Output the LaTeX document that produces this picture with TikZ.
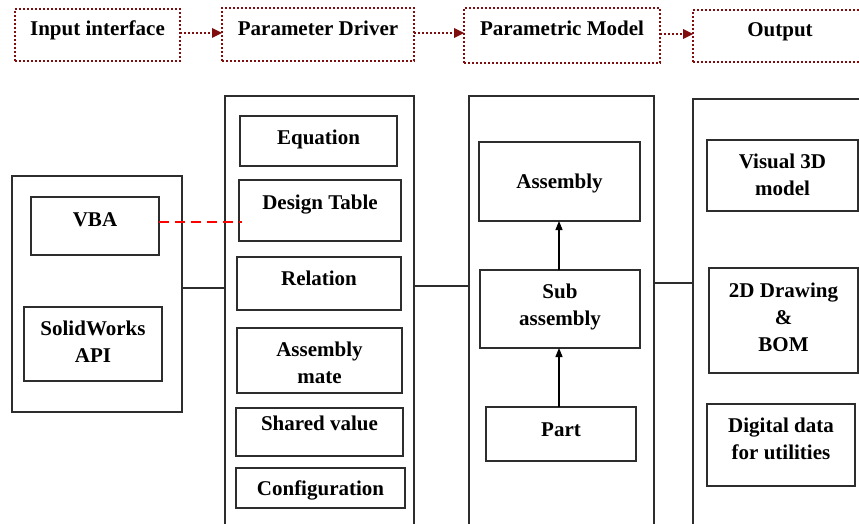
\documentclass[tikz,border=0pt]{standalone}
\usepackage{fontspec}
\setmainfont{Liberation Serif}
\usetikzlibrary{arrows.meta}
\definecolor{hdred}{RGB}{128,14,14}
\definecolor{ln}{RGB}{45,45,45}
\newcommand\mybox[6][]{\node[boxst,#1,minimum width={#4-#2},minimum height={#5-#3}] (#6) at ({(#2+#4)/2},{(#3+#5)/2}) {};}
\newcommand\twol[2]{\begin{tabular}[t]{@{}c@{}}#1\\#2\end{tabular}}
\newcommand\threel[3]{\begin{tabular}[t]{@{}c@{}}#1\\#2\\#3\end{tabular}}
\tikzset{
  boxst/.style={draw=ln,line width=1.2pt,rectangle,inner sep=0pt,outer sep=0pt},
  hdr/.style={draw=hdred,line width=2.3pt,dash pattern=on 2pt off 2pt},
  txt/.style={anchor=base,inner sep=0pt,font=\fontsize{21}{27}\selectfont\bfseries},
  hdarr/.style={draw=hdred,line width=2.3pt,dash pattern=on 2pt off 2pt,-{Triangle[length=10pt,width=10pt,fill=hdred,line width=0pt]}},
  arr/.style={draw=black,line width=1.2pt,-{Triangle[length=9pt,width=7pt]}},
  conn/.style={draw=ln,line width=1.2pt},
  reddash/.style={draw=red,line width=1.8pt,dash pattern=on 10pt off 6pt}
}
\begin{document}
\begin{tikzpicture}[x=1pt,y=-1pt]
\useasboundingbox (0,0) rectangle (859,524);
% header
\mybox[hdr]{15}{9}{180}{61}{hIn}
\mybox[hdr]{222}{8}{414}{61}{hPD}
\mybox[hdr]{464}{8}{660}{63}{hPM}
\mybox[hdr]{693}{10}{880}{62}{hOut}
\node[txt] (hInT) at (hIn |- 0,36) {Input interface};
\node[txt] (hPDT) at (hPD |- 0,36) {Parameter Driver};
\node[txt] (hPMT) at (hPM |- 0,36) {Parametric Model};
\node[txt] (hOutT) at (780,37) {Output};
\draw[hdarr] (hIn.east |- 0,33) -- (hPD.west |- 0,33);
\draw[hdarr] (hPD.east |- 0,33) -- (hPM.west |- 0,33);
\draw[hdarr] (hPM.east |- 0,34) -- (hOut.west |- 0,34);
% columns
\mybox{12}{176}{182}{412}{left}
\mybox{225}{96}{414}{540}{pd}
\mybox{469}{96}{654}{540}{pm}
\mybox{693}{99}{880}{540}{out}
% left inner
\mybox{31}{197}{159}{255}{vba}
\mybox{24}{307}{162}{381}{sw}
\node[txt] (vbaT) at (vba |- 0,226) {VBA};
\node[txt] (swT) at (sw |- 0,335) {\twol{SolidWorks}{API}};
% parameter driver inner
\mybox{240}{116}{397}{166}{eq}
\mybox{239}{180}{401}{241}{dt}
\mybox{237}{257}{401}{310}{rel}
\mybox{237}{328}{402}{393}{am}
\mybox{236}{408}{403}{456}{sv}
\mybox{236}{468}{405}{508}{cfg}
\node[txt] (eqT) at (eq |- 0,145) {Equation};
\node[txt] (dtT) at (dt |- 0,209) {Design Table};
\node[txt] (relT) at (rel |- 0,285) {Relation};
\node[txt] (amT) at (am |- 0,356) {\twol{Assembly}{mate}};
\node[txt] (svT) at (sv |- 0,430) {Shared value};
\node[txt] (cfgT) at (cfg |- 0,495) {Configuration};
% parametric model inner
\mybox{479}{142}{640}{221}{asm}
\mybox{480}{270}{640}{348}{sub}
\mybox{486}{407}{636}{461}{part}
\node[txt] (asmT) at (asm |- 0,188) {Assembly};
\node[txt] (subT) at (sub |- 0,298) {\twol{Sub}{assembly}};
\node[txt] (partT) at (part |- 0,436) {Part};
\draw[arr] (part.north -| 559,0) -- (sub.south -| 559,0);
\draw[arr] (sub.north -| 559,0) -- (asm.south -| 559,0);
% output inner
\mybox{707}{140}{858}{211}{v3d}
\mybox{709}{268}{858}{373}{d2d}
\mybox{707}{404}{855}{486}{dig}
\node[txt] (v3dT) at (v3d |- 0,168) {\twol{Visual 3D}{model}};
\node[txt] (d2dT) at (d2d |- 0,297) {\threel{2D Drawing}{\&}{BOM}};
\node[txt] (digT) at (dig |- 0,432) {\twol{Digital data}{for utilities}};
% connectors
\draw[conn] (left.east |- 0,288) -- (pd.west |- 0,288);
\draw[conn] (pd.east |- 0,286) -- (pm.west |- 0,286);
\draw[conn] (pm.east |- 0,283) -- (out.west |- 0,283);
\draw[reddash] (vba.east |- 0,222) -- ([xshift=3pt]dt.west |- 0,222);
\end{tikzpicture}
\end{document}
